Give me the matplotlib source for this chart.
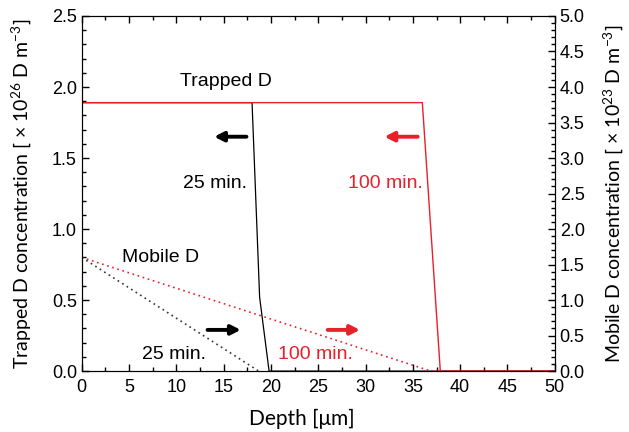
import matplotlib
matplotlib.use('Agg')
import matplotlib.pyplot as plt
from matplotlib.ticker import MultipleLocator, FormatStrFormatter

plt.rcParams['font.family'] = ['Liberation Sans', 'DejaVu Sans']
plt.rcParams['mathtext.fontset'] = 'custom'
plt.rcParams['mathtext.rm'] = 'Lato'
plt.rcParams['mathtext.it'] = 'Lato'

# trapped D profiles (left axis, x1e26 D m^-3)
trap25_depth = [0, 18.0, 18.8, 19.8, 50]
trap25_conc = [1.89, 1.89, 0.52, 0.0, 0.0]
trap100_depth = [0, 36.0, 37.9, 50]
trap100_conc = [1.89, 1.89, 0.0, 0.0]

# mobile D profiles (right axis, x1e23 D m^-3)
mob25_depth = [0, 18.7]
mob25_conc = [1.6, 0.0]
mob100_depth = [0, 36.9, 50]
mob100_conc = [1.6, 0.0, 0.0]

RED = '#e8202a'
LABEL_FONT = ['Lato', 'DejaVu Sans']

fig = plt.figure(figsize=(6.29, 4.32), dpi=100)
ax = fig.add_axes([0.130, 0.141, 0.752, 0.822])
ax2 = ax.twinx()

ax.plot(trap25_depth, trap25_conc, color='black', lw=0.9)
ax.plot(trap100_depth, trap100_conc, color=RED, lw=1.0)
ax2.plot(mob25_depth, mob25_conc, color='#333333', lw=1.2, ls=(0, (1, 2.2)))
ax2.plot(mob100_depth, mob100_conc, color=RED, lw=1.2, ls=(0, (1, 2.2)))

ax.set_xlim(0, 50)
ax.set_ylim(0, 2.5)
ax2.set_ylim(0, 5.0)

ax.xaxis.set_major_locator(MultipleLocator(5))
ax.xaxis.set_minor_locator(MultipleLocator(2.5))
ax.yaxis.set_major_locator(MultipleLocator(0.5))
ax.yaxis.set_minor_locator(MultipleLocator(0.1))
ax2.yaxis.set_major_locator(MultipleLocator(0.5))
ax2.yaxis.set_minor_locator(MultipleLocator(0.1))

for a in (ax, ax2):
    a.tick_params(axis='both', which='both', direction='in', labelsize=13)
    a.tick_params(which='major', length=5, width=1)
    a.tick_params(which='minor', length=3, width=1)
    a.yaxis.set_major_formatter(FormatStrFormatter('%.1f'))
ax.tick_params(axis='x', which='both', top=True, pad=6)

ax.set_xlabel('Depth [\u03bcm]', fontsize=15, family=LABEL_FONT)
ax.xaxis.set_label_coords(0.465, -0.105)
ax.set_ylabel('Trapped D concentration [ \u00d7 10$^{26}$ D m$^{-3}$]', fontsize=14, family=LABEL_FONT)
ax.yaxis.set_label_coords(-0.104, 0.5)
ax2.set_ylabel('Mobile D concentration [ \u00d7 10$^{23}$ D m$^{-3}$]', fontsize=14, family=LABEL_FONT)
ax2.yaxis.set_label_coords(1.099, 0.5)

# annotations
ax.text(15.2, 2.04, 'Trapped D', fontsize=14, ha='center', va='center')
ax.text(14.1, 1.32, '25 min.', fontsize=14, ha='center', va='center')
ax.text(32.1, 1.32, '100 min.', fontsize=14, ha='center', va='center', color=RED)
ax.text(8.3, 0.80, 'Mobile D', fontsize=14, ha='center', va='center')
ax.text(9.8, 0.12, '25 min.', fontsize=14, ha='center', va='center')
ax.text(24.7, 0.12, '100 min.', fontsize=14, ha='center', va='center', color=RED)

arrow_kw = dict(arrowstyle='-|>,head_length=0.55,head_width=0.28', lw=2.8)
ax.annotate('', xy=(13.7, 1.65), xytext=(17.7, 1.65), arrowprops=dict(color='black', **arrow_kw))
ax.annotate('', xy=(31.7, 1.65), xytext=(35.8, 1.65), arrowprops=dict(color=RED, **arrow_kw))
ax.annotate('', xy=(17.1, 0.29), xytext=(13.0, 0.29), arrowprops=dict(color='black', **arrow_kw))
ax.annotate('', xy=(29.7, 0.29), xytext=(25.7, 0.29), arrowprops=dict(color=RED, **arrow_kw))

fig.savefig('out.png', dpi=100)
